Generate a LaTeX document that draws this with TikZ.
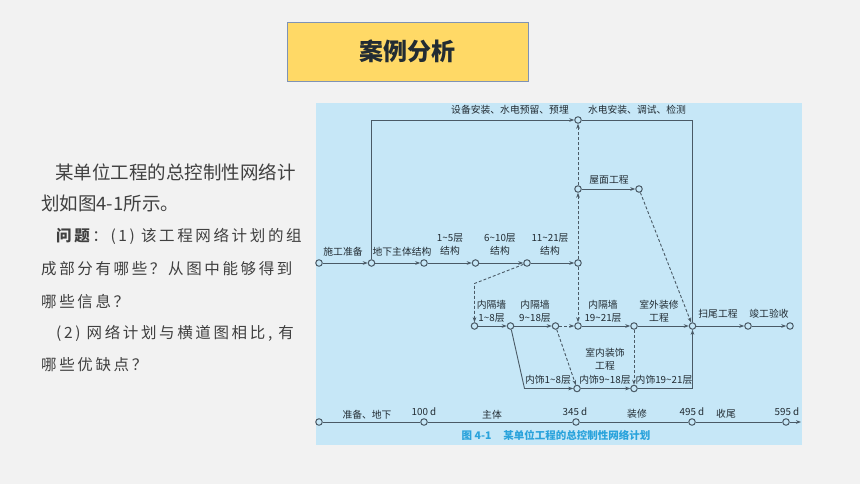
\documentclass[tikz,border=0pt]{standalone}
\usepackage{fontspec}
\setmainfont{Noto Sans CJK SC}
\usetikzlibrary{arrows.meta}
\definecolor{bg}{HTML}{F2F2F2}
\definecolor{panel}{HTML}{C6E7F7}
\definecolor{lc}{HTML}{4A5A66}
\definecolor{txt}{HTML}{222C33}
\definecolor{gold}{HTML}{FFD966}
\definecolor{boxline}{HTML}{7F93B5}
\definecolor{cap}{HTML}{2AA3DC}
\definecolor{bodytxt}{HTML}{404040}
\newcommand{\tl}{{\char"7E}}
\begin{document}
\begin{tikzpicture}[x=1pt,y=-1pt,
 ev/.style={circle,draw=lc,fill=panel,line width=1pt,minimum size=6.5pt,inner sep=0pt},
 act/.style={draw=lc,line width=0.9pt,-{Stealth[length=5pt,width=3.6pt]}},
 plain/.style={draw=lc,line width=0.9pt},
 dum/.style={act,dash pattern=on 3pt off 2pt},
 lab/.style={font=\fontsize{9.8}{13}\selectfont,text=txt,align=center,inner sep=0pt},
 body/.style={anchor=west,inner sep=0pt,text=bodytxt},
 qtext/.style={body,font=\fontsize{15.5}{18}\selectfont\addfontfeature{LetterSpace=17}},
]
% background
\fill[bg] (0,0) rectangle (860,484);
\useasboundingbox (0,0) rectangle (860,484);
% title
\node[draw=boxline,fill=gold,line width=0.6pt,minimum width=241pt,minimum height=59pt,inner sep=0pt,
  font=\fontsize{24}{28}\selectfont\bfseries,text=txt] (title) at (407.5,51.5) {案例分析};
% left text
\node[body,font=\fontsize{18.5}{22}\selectfont] (l1) at (55,172.5) {某单位工程的总控制性网络计};
\node[body,font=\fontsize{18.5}{22}\selectfont] (l2) at (41,203) {划如图4-1所示。};
\node[qtext] (l3) at (56,236) {\textbf{问题}：(1) 该工程网络计划的组};
\node[qtext] (l4) at (41,268.5) {成部分有哪些？从图中能够得到};
\node[qtext] (l5) at (41,301.5) {哪些信息？};
\node[qtext] (l6) at (56,333) {(2) 网络计划与横道图相比, 有};
\node[qtext] (l7) at (41,365) {哪些优缺点？};
% panel
\fill[panel] (316,103) rectangle (802,445);
% events
\node[ev] (A) at (319,263) {};
\node[ev] (B) at (371.5,263) {};
\node[ev] (C) at (424,263) {};
\node[ev] (D) at (475.5,263) {};
\node[ev] (E) at (527,263) {};
\node[ev] (F) at (578,263) {};
\node[ev] (T) at (578,120) {};
\node[ev] (R1) at (578,189) {};
\node[ev] (R2) at (639,189) {};
\node[ev] (N) at (474.5,326) {};
\node[ev] (O) at (510.5,326) {};
\node[ev] (P) at (555.5,326) {};
\node[ev] (G) at (578,326) {};
\node[ev] (H) at (634,326) {};
\node[ev] (I) at (692.5,326) {};
\node[ev] (J) at (748,326) {};
\node[ev] (K) at (790,326) {};
\node[ev] (L) at (577,388.5) {};
\node[ev] (M) at (634,388.5) {};
\coordinate (e1) at (474.5,283.5);
\coordinate (o1) at (524.5,388.5);
% activities
\draw[act] (A) -- (B);
\draw[act] (B) -- (C);
\draw[act] (C) -- (D);
\draw[act] (D) -- (E);
\draw[act] (E) -- (F);
\draw[act] (B) |- (T);
\draw[plain] (T) -| (I);
\draw[dum] (F) -- (R1);
\draw[dum] (R1) -- (T);
\draw[act] (R1) -- (R2);
\draw[dum] (R2) -- (I);
\draw[dum] (F) -- (G);
\draw[dum] (E) -- (e1) -- (N);
\draw[act] (N) -- (O);
\draw[act] (O) -- (P);
\draw[dum] (P) -- (G);
\draw[act] (G) -- (H);
\draw[act] (H) -- (I);
\draw[act] (I) -- (J);
\draw[act] (J) -- (K);
\draw[act] (O) -- (o1) -- (L);
\draw[dum] (P) -- (L);
\draw[act] (L) -- (M);
\draw[dum] (H) -- (M);
\draw[act] (M) -| (I);
% labels
\node[lab] (tA) at (510,110) {设备安装、水电预留、预埋};
\node[lab] (tB) at (637,110) {水电安装、调试、检测};
\node[lab] (tC) at (609,180) {屋面工程};
\node[lab] (tD) at (343,252) {施工准备};
\node[lab] (tE) at (402,252) {地下主体结构};
\node[lab] (tF) at (450,245) {1\tl5层\\结构};
\node[lab] (tG) at (500,245) {6\tl10层\\结构};
\node[lab] (tH) at (550,245) {11\tl21层\\结构};
\node[lab] (tI) at (491.5,311) {内隔墙\\1\tl8层};
\node[lab] (tJ) at (535,311) {内隔墙\\9\tl18层};
\node[lab] (tK) at (603,311) {内隔墙\\19\tl21层};
\node[lab] (tL) at (659,311) {室外装修\\工程};
\node[lab] (tM) at (718,314) {扫尾工程};
\node[lab] (tN) at (769,314) {竣工验收};
\node[lab] (tO) at (605,359) {室内装饰\\工程};
\node[lab] (tP) at (548,380) {内饰1\tl8层};
\node[lab] (tQ) at (605,380) {内饰9\tl18层};
\node[lab] (tR) at (664,380) {内饰19\tl21层};
% timeline
\node[ev] (t0) at (319,422) {};
\node[ev] (t1) at (424,422) {};
\node[ev] (t2) at (576,422) {};
\node[ev] (t3) at (692,422) {};
\node[ev] (t4) at (786,422) {};
\coordinate (tend) at (801,422);
\draw[plain] (t0) -- (t1);
\draw[plain] (t1) -- (t2);
\draw[plain] (t2) -- (t3);
\draw[plain] (t3) -- (t4);
\draw[act] (t4) -- (tend);
\node[lab] (u1) at (367,414.5) {准备、地下};
\node[lab] (u2) at (424,411.5) {100 d};
\node[lab] (u3) at (492,414.5) {主体};
\node[lab] (u4) at (575,411.5) {345 d};
\node[lab] (u5) at (637,414) {装修};
\node[lab] (u6) at (692,411.5) {495 d};
\node[lab] (u7) at (726,414) {收尾};
\node[lab] (u8) at (787,411.5) {595 d};
\node[anchor=west,inner sep=0pt,font=\fontsize{10.5}{12}\selectfont\bfseries,text=cap] (capt) at (461.5,435.5) {图 4-1\hspace{12pt}某单位工程的总控制性网络计划};
\end{tikzpicture}
\end{document}
